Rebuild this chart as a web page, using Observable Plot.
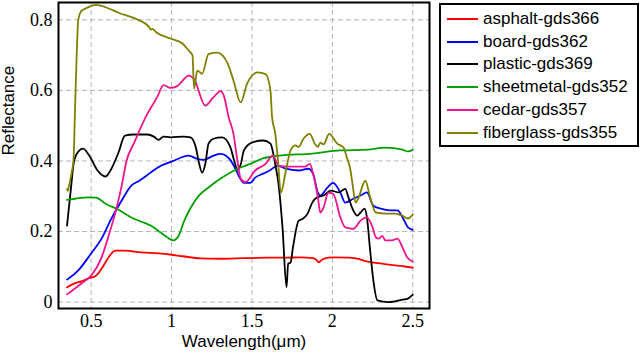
<!DOCTYPE html>
<html>
<head>
<meta charset="utf-8">
<script src="https://cdn.jsdelivr.net/npm/d3@7"></script>
<script src="https://cdn.jsdelivr.net/npm/@observablehq/plot@0.6"></script>
<style>
  body { margin: 0; background: white; }
  #wrap { position: relative; width: 640px; height: 359px; }
  #legend { position: absolute; left: 439px; top: 3px; width: 196px; height: 140px;
    border: 2px solid black; background: white; font-family: "Liberation Sans", Arial, sans-serif; font-size: 17px; }
  .row { position: absolute; left: 0; height: 22px; display: flex; align-items: center; }
  .sw { width: 31px; height: 2px; margin-left: 6px; margin-right: 5px; }
</style>
</head>
<body>
<div id="wrap"><div id="legend"></div></div>
<script>
const seriesNames = ["asphalt-gds366","board-gds362","plastic-gds369","sheetmetal-gds352","cedar-gds357","fiberglass-gds355"];
const seriesColors = ["#ff0000","#0000ff","#000000","#00a000","#f0148c","#808000"];
const xTicks = [0.5, 1, 1.5, 2, 2.5];
const yTicks = [0, 0.2, 0.4, 0.6, 0.8];

const asphaltWl = [0.35,0.40,0.44,0.48,0.53,0.565,0.61,0.65,0.71,0.81,0.92,0.99,1.07,1.18,1.30,1.40,1.50,1.60,1.70,1.80,1.88,1.90,1.915,1.935,1.975,2.02,2.10,2.145,2.22,2.31,2.39,2.45,2.5];
const asphaltR  = [0.042,0.054,0.059,0.067,0.075,0.095,0.128,0.146,0.146,0.141,0.138,0.135,0.130,0.124,0.123,0.124,0.125,0.126,0.126,0.127,0.125,0.120,0.113,0.120,0.126,0.127,0.126,0.124,0.115,0.109,0.104,0.101,0.098];

const boardWl = [0.35,0.36,0.42,0.5,0.565,0.625,0.69,0.75,0.80,0.87,0.92,1.0,1.107,1.16,1.20,1.26,1.305,1.365,1.40,1.42,1.45,1.49,1.52,1.57,1.61,1.66,1.71,1.79,1.85,1.88,1.91,1.925,1.97,2.005,2.05,2.08,2.13,2.175,2.215,2.255,2.3,2.36,2.405,2.44,2.47,2.5];
const boardR  = [0.064,0.067,0.09,0.138,0.18,0.236,0.288,0.33,0.344,0.367,0.383,0.398,0.415,0.406,0.403,0.415,0.42,0.403,0.375,0.356,0.338,0.338,0.353,0.364,0.373,0.387,0.378,0.373,0.378,0.364,0.31,0.302,0.325,0.338,0.31,0.282,0.293,0.302,0.311,0.273,0.265,0.26,0.26,0.237,0.212,0.205];

const plasticWl = [0.35,0.375,0.39,0.41,0.45,0.495,0.54,0.59,0.62,0.67,0.71,0.765,0.85,0.89,0.92,0.95,0.993,1.075,1.118,1.15,1.17,1.19,1.21,1.23,1.26,1.315,1.365,1.39,1.41,1.43,1.45,1.5,1.57,1.615,1.635,1.645,1.665,1.69,1.715,1.725,1.74,1.755,1.79,1.815,1.845,1.875,1.905,1.945,1.99,2.04,2.08,2.1,2.13,2.155,2.175,2.2,2.215,2.235,2.255,2.28,2.35,2.435,2.47,2.5];
const plasticR  = [0.217,0.325,0.39,0.42,0.435,0.41,0.373,0.356,0.373,0.424,0.472,0.475,0.475,0.469,0.46,0.469,0.467,0.469,0.467,0.44,0.396,0.367,0.392,0.449,0.463,0.467,0.44,0.40,0.375,0.39,0.43,0.452,0.458,0.449,0.415,0.39,0.335,0.211,0.042,0.109,0.112,0.155,0.23,0.236,0.25,0.282,0.297,0.302,0.316,0.311,0.321,0.297,0.26,0.245,0.254,0.265,0.24,0.146,0.061,0.005,0.0,0.007,0.01,0.021];

const sheetWl = [0.35,0.40,0.48,0.53,0.59,0.67,0.75,0.84,0.87,0.93,0.975,1.01,1.045,1.075,1.12,1.17,1.23,1.305,1.41,1.49,1.565,1.665,1.875,2.05,2.22,2.33,2.435,2.47,2.5];
const sheetR  = [0.29,0.293,0.297,0.296,0.279,0.262,0.24,0.223,0.217,0.198,0.183,0.175,0.189,0.226,0.268,0.302,0.325,0.35,0.378,0.392,0.407,0.415,0.421,0.43,0.432,0.438,0.432,0.427,0.432];

const cedarWl = [0.35,0.44,0.5,0.565,0.61,0.657,0.69,0.72,0.765,0.85,0.91,0.95,0.993,1.035,1.107,1.14,1.21,1.26,1.305,1.325,1.355,1.385,1.41,1.43,1.46,1.52,1.585,1.63,1.665,1.725,1.83,1.86,1.88,1.91,1.925,1.945,1.975,2.005,2.05,2.08,2.13,2.175,2.215,2.25,2.27,2.29,2.31,2.33,2.37,2.405,2.435,2.465,2.5];
const cedarR  = [0.022,0.053,0.075,0.127,0.19,0.265,0.33,0.40,0.449,0.534,0.58,0.615,0.607,0.612,0.642,0.632,0.557,0.58,0.598,0.585,0.524,0.477,0.40,0.35,0.34,0.373,0.392,0.415,0.387,0.384,0.384,0.392,0.364,0.297,0.254,0.268,0.31,0.307,0.24,0.212,0.208,0.231,0.24,0.212,0.184,0.18,0.188,0.175,0.175,0.18,0.156,0.127,0.115];

const fiberWl = [0.35,0.355,0.36,0.37,0.38,0.39,0.40,0.41,0.42,0.44,0.48,0.53,0.61,0.67,0.79,0.86,0.87,0.88,0.906,0.993,1.07,1.106,1.13,1.14,1.16,1.19,1.23,1.285,1.35,1.385,1.43,1.47,1.535,1.585,1.615,1.625,1.645,1.66,1.68,1.71,1.74,1.77,1.79,1.82,1.86,1.89,1.91,1.925,1.945,1.98,2.03,2.07,2.09,2.11,2.125,2.145,2.16,2.205,2.235,2.27,2.33,2.39,2.435,2.47,2.5];
const fiberR  = [0.32,0.315,0.325,0.345,0.37,0.40,0.55,0.70,0.80,0.825,0.835,0.842,0.832,0.82,0.80,0.78,0.772,0.774,0.764,0.747,0.732,0.713,0.70,0.605,0.656,0.647,0.703,0.707,0.675,0.628,0.566,0.619,0.651,0.646,0.60,0.524,0.477,0.41,0.31,0.37,0.43,0.444,0.44,0.463,0.477,0.449,0.44,0.452,0.447,0.477,0.449,0.438,0.41,0.38,0.336,0.282,0.293,0.344,0.297,0.254,0.251,0.251,0.245,0.237,0.248];

const series = [
  [asphaltWl, asphaltR], [boardWl, boardR], [plasticWl, plasticR],
  [sheetWl, sheetR], [cedarWl, cedarR], [fiberWl, fiberR]
];
const rows = [];
series.forEach(([wl, r], i) => wl.forEach((w, j) => rows.push({name: seriesNames[i], wl: w, r: r[j]})));

const grid = {stroke: "#b4b4b4", strokeOpacity: 1, strokeDasharray: "5,3", strokeWidth: 1};
const chart = Plot.plot({
  width: 640, height: 359,
  marginLeft: 58, marginRight: 211, marginTop: 2, marginBottom: 51,
  style: {background: "white", color: "black"},
  x: {domain: [0.297, 2.604]},
  y: {domain: [-0.018, 0.849]},
  color: {domain: seriesNames, range: seriesColors},
  marks: [
    Plot.gridX(xTicks, grid),
    Plot.gridY(yTicks, grid),
    Plot.line(rows, {x: "wl", y: "r", z: "name", stroke: "name", strokeWidth: 1.8, curve: "monotone-x"}),
    Plot.frame({stroke: "black", strokeWidth: 2}),
    Plot.axisX(xTicks, {tickSize: 0, tickPadding: 6, tickFormat: d => String(d), label: null,
      fontFamily: "Liberation Serif, serif", fontSize: 18}),
    Plot.axisY(yTicks, {tickSize: 0, tickPadding: 6, tickFormat: d => String(d), label: null,
      fontFamily: "Liberation Serif, serif", fontSize: 18}),
    Plot.text(["Wavelength(μm)"], {frameAnchor: "bottom", dy: 38, fontFamily: "Liberation Sans, sans-serif", fontSize: 17, fill: "black"}),
    Plot.text(["Reflectance"], {frameAnchor: "left", dx: -50, rotate: -90, fontFamily: "Liberation Sans, sans-serif", fontSize: 17, fill: "black"})
  ]
});
document.getElementById("wrap").prepend(chart);

const legend = d3.select("#legend");
seriesNames.forEach((n, i) => {
  const row = legend.append("div").attr("class", "row").style("top", (3 + i * 22.7) + "px");
  row.append("div").attr("class", "sw").style("background", seriesColors[i]);
  row.append("span").text(n);
});
</script>
</body>
</html>
